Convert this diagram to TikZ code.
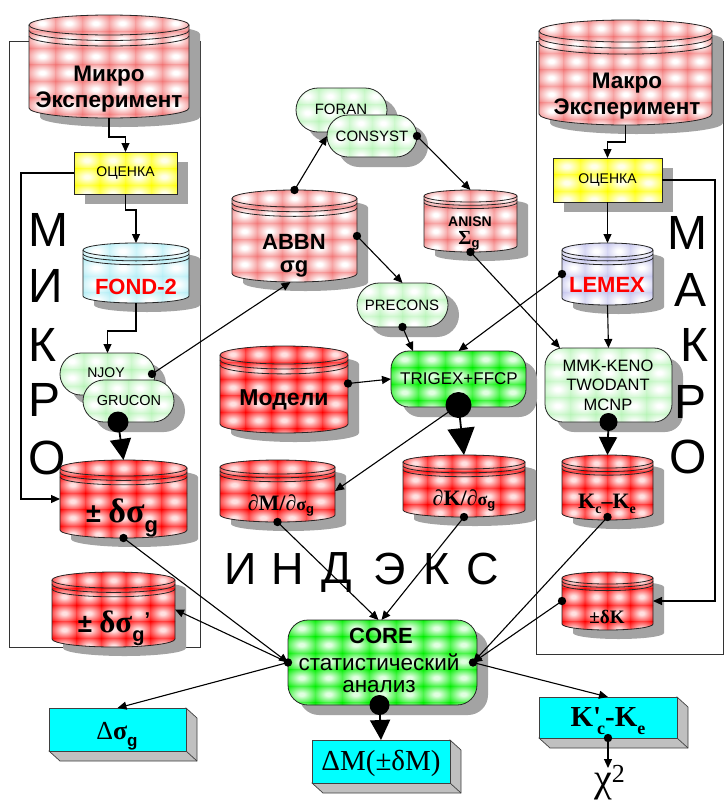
\documentclass[tikz,border=0pt]{standalone}
\usepackage{fontspec}
\setmainfont{Liberation Sans}
\newfontfamily\tnr{Liberation Serif}
\usetikzlibrary{arrows.meta}
\definecolor{shadowc}{HTML}{A3A3A3}
\definecolor{pinkb}{HTML}{F27878}
\definecolor{redb}{HTML}{FF0000}
\definecolor{redc}{HTML}{FFE0E0}
\definecolor{cyanb}{HTML}{B4EEF6}
\definecolor{lavb}{HTML}{C4C4EE}
\definecolor{yelb}{HTML}{FFFF00}
\definecolor{yelc}{HTML}{FFFFE8}
\definecolor{lgb}{HTML}{B8F4B8}
\definecolor{bgb}{HTML}{00EE00}
\definecolor{bgc}{HTML}{E0FFE0}
\definecolor{boxc}{HTML}{00FFFF}
\definecolor{sidec}{HTML}{C0C0C0}
\colorlet{tilein}{white}
\colorlet{tileout}{red}
\pgfdeclareradialshading[tilein,tileout]{tileshade}{\pgfpoint{0bp}{0bp}}{color(0bp)=(tilein); color(5bp)=(tilein); color(36bp)=(tileout); color(50bp)=(tileout)}

% tiled fill: #1 clip path, #2 x1, #3 y1, #4 x2, #5 y2, #6 base, #7 centre
\newcommand\mytiles[7]{%
 \begin{scope}
 \clip #1;
 \colorlet{tilein}{#7}\colorlet{tileout}{#6}%
 \fill[#6] (#2,#3) rectangle (#4,#5);
 \pgfmathtruncatemacro\mytnx{max(4,round((#4-#2)/26))}%
 \pgfmathsetmacro\mytcw{(#4-#2)/\mytnx}%
 \pgfmathtruncatemacro\mytny{ceil((#5-#3)/16.5)}%
 \foreach \tileI in {1,...,\mytnx}{\foreach \tileJ in {1,...,\mytny}{%
   \shade[shading=tileshade] ({#2+(\tileI-1)*\mytcw},{#3+(\tileJ-1)*16.5}) rectangle ++(\mytcw,16.5);}}%
 \end{scope}}

% cylinder: #1 name, #2 x1, #3 y1, #4 x2, #5 y2, #6 ry, #7 base, #8 centre
\newcommand\mycyl[8]{%
 \pgfmathsetmacro\mycx{(#2+#4)/2}%
 \pgfmathsetmacro\mycy{(#3+#5)/2}%
 \pgfmathsetmacro\myrx{(#4-#2)/2}%
 \pgfmathsetmacro\myya{#3+#6}%
 \pgfmathsetmacro\myyb{#5-#6}%
 \pgfmathsetmacro\myyr{#3+1.55*#6}%
 \pgfmathsetmacro\myys{#3+2.1*#6}%
 \pgfmathsetmacro\mywd{#4-#2}%
 \pgfmathsetmacro\myht{#5-#3}%
 \begin{scope}[shift={(11,9)}]
 \fill[shadowc] (#2,\myya) -- (#2,\myyb) arc[start angle=180,end angle=0,x radius=\myrx,y radius=#6] -- (#4,\myya) arc[start angle=0,end angle=-180,x radius=\myrx,y radius=#6] -- cycle;
 \end{scope}
 \mytiles{(#2,\myya) -- (#2,\myyb) arc[start angle=180,end angle=0,x radius=\myrx,y radius=#6] -- (#4,\myya) arc[start angle=0,end angle=-180,x radius=\myrx,y radius=#6] -- cycle}{#2}{#3}{#4}{#5}{#7}{#8}
 \draw[outl] (#2,\myya) -- (#2,\myyb) arc[start angle=180,end angle=0,x radius=\myrx,y radius=#6] -- (#4,\myya);
 \draw[outl] (\mycx,\myya) ellipse[x radius=\myrx,y radius=#6];
 \draw[outl] (#2,\myyr) arc[start angle=180,end angle=0,x radius=\myrx,y radius=#6];
 \draw[outl] (#2,\myys) arc[start angle=180,end angle=0,x radius=\myrx,y radius=#6];
 \node[inner sep=0,outer sep=0,minimum width=\mywd pt,minimum height=\myht pt] (#1) at (\mycx,\mycy) {};
}

% rounded box: #1 name, #2 x1, #3 y1, #4 x2, #5 y2, #6 radius, #7 base, #8 centre
\newcommand\myrbox[8]{%
 \pgfmathsetmacro\mycx{(#2+#4)/2}%
 \pgfmathsetmacro\mycy{(#3+#5)/2}%
 \pgfmathsetmacro\mywd{#4-#2}%
 \pgfmathsetmacro\myht{#5-#3}%
 \fill[shadowc, rounded corners=#6pt] ({#2+11},{#3+10}) rectangle ({#4+11},{#5+10});
 \mytiles{[rounded corners=#6pt] (#2,#3) rectangle (#4,#5)}{#2}{#3}{#4}{#5}{#7}{#8}
 \draw[outl, rounded corners=#6pt] (#2,#3) rectangle (#4,#5);
 \node[inner sep=0,outer sep=0,minimum width=\mywd pt,minimum height=\myht pt] (#1) at (\mycx,\mycy) {};
}

% 3D box: #1 name, #2 x1, #3 y1, #4 x2, #5 y2
\newcommand\mytdbox[5]{%
 \pgfmathsetmacro\mycx{(#2+#4)/2}%
 \pgfmathsetmacro\mycy{(#3+#5)/2}%
 \pgfmathsetmacro\mywd{#4-#2}%
 \pgfmathsetmacro\myht{#5-#3}%
 \filldraw[fill=sidec, draw=black!75, line width=0.7pt] (#4,#3) -- ({#4+11},{#3+10}) -- ({#4+11},{#5+10}) -- ({#2+11},{#5+10}) -- (#2,#5) -- cycle;
 \draw[black!75, line width=0.7pt] (#4,#5) -- ({#4+11},{#5+10});
 \filldraw[fill=boxc, draw=black!75, line width=0.7pt] (#2,#3) rectangle (#4,#5);
 \node[inner sep=0,outer sep=0,minimum width=\mywd pt,minimum height=\myht pt] (#1) at (\mycx,\mycy) {};
}

\begin{document}
\begin{tikzpicture}[x=1pt,y=-1pt,
  outl/.style={draw=black!85, line width=0.8pt},
  frm/.style={draw=black!80, line width=0.8pt},
  conn/.style={line width=1.1pt, -{Triangle[length=9pt,width=8pt]}},
  bigA/.style={line width=1.8pt, -{Triangle[length=#1,width=#1]}},
  t/.style={inner sep=0, outer sep=0, align=center, text=black},
  bigl/.style={inner sep=0, outer sep=0, font=\fontsize{48}{48}\selectfont},
  bigi/.style={inner sep=0, outer sep=0, font=\fontsize{45}{45}\selectfont}]
\fill[white] (0,0) rectangle (724,801);
\useasboundingbox (0,0) rectangle (724,801);

% frames
\draw[frm] (9,41) rectangle (200,647);
\draw[frm] (536,41) rectangle (723,654);

% cylinders
\mycyl{micro}{29}{15}{189}{118}{10}{pinkb}{white}
\mycyl{makro}{539}{20}{712}{125}{11}{pinkb}{white}
\mycyl{abbn}{232}{190}{357}{282}{8.5}{pinkb}{white}
\mycyl{anisn}{424}{190}{517}{252}{6}{pinkb}{white}
\mycyl{fond}{83}{243}{189}{303}{7}{cyanb}{white}
\mycyl{lemex}{562}{243}{653}{305}{7}{lavb}{white}
\mycyl{modeli}{220}{346}{348}{433}{9}{redb}{redc}
\mycyl{dM}{220}{460}{335}{522}{7}{redb}{redc}
\mycyl{dK}{403}{455}{525}{517}{7}{redb}{redc}
\mycyl{kcke}{562}{455}{653}{520}{6.5}{redb}{redc}
\mycyl{pmdK}{562}{572}{653}{630}{6}{redb}{redc}
\mycyl{dsg}{60}{460}{187}{538}{8}{redb}{redc}
\mycyl{dsgp}{52}{572}{175}{647}{8}{redb}{redc}

% boxes
\myrbox{ocL}{74}{152}{177}{194}{0}{yelb}{yelc}
\myrbox{ocR}{553}{158}{662}{202}{0}{yelb}{yelc}
\myrbox{njoy}{60}{353}{155}{395}{21}{lgb}{white}
\myrbox{grucon}{83}{380}{174}{422}{21}{lgb}{white}
\myrbox{foran}{296}{88}{387}{132}{22}{lgb}{white}
\myrbox{consyst}{327}{115}{417}{157}{21}{lgb}{white}
\myrbox{precons}{357}{283}{448}{327}{22}{lgb}{white}
\myrbox{trigex}{391}{351}{526}{407}{18}{bgb}{bgc}
\myrbox{mmk}{545}{348}{672}{422}{18}{lgb}{white}
\myrbox{core}{288}{620}{477}{705}{20}{bgb}{bgc}

\mytdbox{dsgbox}{49}{708}{186}{751}
\mytdbox{dMbox}{312}{740}{450}{783}
\mytdbox{kcbox}{539}{697}{677}{738}

% labels
\node[t, font=\bfseries\fontsize{22.5}{26}\selectfont] (microT) at (109,89) {Микро\\Эксперимент};
\node[t, font=\bfseries\fontsize{22.5}{26}\selectfont] (makroT) at (627,96) {Макро\\Эксперимент};
\node[t, font=\fontsize{14}{14}\selectfont] (ocLT) at (ocL) {ОЦЕНКА};
\node[t, font=\fontsize{14}{14}\selectfont] (ocRT) at (ocR) {ОЦЕНКА};
\node[t, text=red, font=\bfseries\fontsize{22}{22}\selectfont] (fondT) at (136,287) {FOND-2};
\node[t, text=red, font=\bfseries\fontsize{22}{22}\selectfont] (lemT) at (607,285) {LEMEX};
\node[t, font=\fontsize{14}{14}\selectfont] (njoyT) at (106,373) {NJOY};
\node[t, font=\fontsize{14.5}{14}\selectfont] (grucT) at (129,401) {GRUCON};
\node[t, font=\bfseries\fontsize{22}{22}\selectfont] (abbnT1) at (294,242) {ABBN};
\node[t, font=\bfseries\fontsize{22}{22}\selectfont] (abbnT2) at (294,269) {σg};
\node[t, font=\fontsize{15}{15}\selectfont] (foranT) at (341,109) {FORAN};
\node[t, font=\fontsize{15}{15}\selectfont] (consT) at (372,136) {CONSYST};
\node[t, font=\bfseries\fontsize{14}{14}\selectfont] (anisnT1) at (470,222) {ANISN};
\node[t] (anisnT2) at (469,241) {{\tnr\bfseries\fontsize{20}{20}\selectfont Σ}\raisebox{-3pt}{\bfseries\fontsize{13}{13}\selectfont g}};
\node[t, font=\fontsize{15}{15}\selectfont] (precT) at (402,305) {PRECONS};
\node[t, font=\bfseries\fontsize{23}{23}\selectfont] (modT) at (284,400) {Модели};
\node[t, font=\fontsize{17}{17}\selectfont] (trigT) at (459,379) {TRIGEX+FFCP};
\node[t] (dMT) at (281,505) {{\tnr\bfseries\fontsize{22}{22}\selectfont ∂M/∂}{\tnr\bfseries\fontsize{18}{18}\selectfont σ}\raisebox{-3pt}{\bfseries\fontsize{13}{13}\selectfont g}};
\node[t] (dKT) at (464,500) {{\tnr\bfseries\fontsize{22}{22}\selectfont ∂K/∂}{\tnr\bfseries\fontsize{18}{18}\selectfont σ}\raisebox{-3pt}{\bfseries\fontsize{13}{13}\selectfont g}};
\node[t, font=\fontsize{16.5}{19.5}\selectfont] (mmkT) at (608,385) {MMK-KENO\\TWODANT\\MCNP};
\node[t] (kcT) at (607,504) {\tnr\bfseries\fontsize{22}{22}\selectfont K\raisebox{-5pt}{\fontsize{14}{14}\selectfont c}–K\raisebox{-5pt}{\fontsize{14}{14}\selectfont e}};
\node[t] (dkT) at (607,617) {\tnr\bfseries\fontsize{19}{19}\selectfont ±δK};
\node[t] (dsgT) at (122,518) {{\bfseries\fontsize{27}{27}\selectfont ± }{\tnr\bfseries\fontsize{34}{34}\selectfont δσ}\raisebox{-10pt}{\bfseries\fontsize{22}{22}\selectfont g}};
\node[t] (dsgpT) at (114,628) {{\bfseries\fontsize{26}{26}\selectfont ± }{\tnr\bfseries\fontsize{31}{31}\selectfont δσ}\raisebox{-9pt}{\bfseries\fontsize{20}{20}\selectfont g}\raisebox{6pt}{\bfseries\fontsize{20}{20}\selectfont '}};
\node[t, font=\bfseries\fontsize{22}{22}\selectfont] (coreT1) at (381,636) {CORE};
\node[t, font=\fontsize{22.5}{22}\selectfont] (coreT2) at (379,662) {статистический};
\node[t, font=\fontsize{22.5}{22}\selectfont] (coreT3) at (379,687) {анализ};
\node[t] (dsgbT) at (117,736) {{\tnr\fontsize{26}{26}\selectfont Δ}{\tnr\bfseries\fontsize{26}{26}\selectfont σ}\raisebox{-7pt}{\bfseries\fontsize{17}{17}\selectfont g}};
\node[t] (dMbT) at (381,763) {\tnr\fontsize{29}{29}\selectfont ΔM(±δM)};
\node[t] (kcbT) at (608,721) {\tnr\bfseries\fontsize{29}{29}\selectfont K'\kern-4pt\raisebox{-8pt}{\fontsize{18}{18}\selectfont c}-K\raisebox{-8pt}{\fontsize{18}{18}\selectfont e}};
\node[t, anchor=base west] (chiT) at (594,791) {\tnr\fontsize{40}{40}\selectfont χ\raisebox{9pt}{\fontsize{26}{26}\selectfont 2}};

% big letters
\node[bigl, anchor=west] (mi1) at (28,230) {М};
\node[bigl, anchor=west] (mi2) at (28,286) {И};
\node[bigl, anchor=west] (mi3) at (28,345) {К};
\node[bigl, anchor=west] (mi4) at (28,400) {Р};
\node[bigl, anchor=west] (mi5) at (28,458) {О};
\node[bigl, anchor=east] (ma1) at (707,233) {М};
\node[bigl, anchor=east] (ma2) at (707,290) {А};
\node[bigl, anchor=east] (ma3) at (708,345) {К};
\node[bigl, anchor=east] (ma4) at (707,402) {Р};
\node[bigl, anchor=east] (ma5) at (707,457) {О};
\node[bigi] (in1) at (241,569) {И};
\node[bigi] (in2) at (288,569) {Н};
\node[bigi] (in3) at (337,572) {Д};
\node[bigi] (in4) at (390,569) {Э};
\node[bigi] (in5) at (437,569) {К};
\node[bigi] (in6) at (483,569) {С};

% connection points
\coordinate (njoyD) at ([xshift=-3pt]njoy.east);
\coordinate (gruD) at ([xshift=-10.5pt]grucon.south);
\coordinate (abbnTop) at (abbn.north);
\coordinate (abbnR) at (abbn.east);
\coordinate (consD) at (consyst.east);
\coordinate (anisnD) at (anisn.south);
\coordinate (precD) at (precons.south);
\coordinate (modD) at ([yshift=6pt]modeli.east);
\coordinate (lemD) at (lemex.west);
\coordinate (trigD) at ([yshift=2pt]trigex.south);
\coordinate (mmkD) at (mmk.south);
\coordinate (kcD) at ([yshift=3pt]kcke.south);
\coordinate (dkD) at (pmdK.west);
\coordinate (dMD) at (dM.south);
\coordinate (dKD) at (dK.south);
\coordinate (dsgD) at (dsg.south);
\coordinate (coreL) at (core.west);
\coordinate (coreR) at ([xshift=-4pt]core.east);
\coordinate (coreB) at ([xshift=-3pt]core.south);
\coordinate (kcbD) at (kcbox.south);
\coordinate (chitop) at (608,768);

% connectors
\draw[conn] (micro.south) -- ++(0,19) -| (ocL.north);
\draw[conn] (ocL.south) -- ++(0,16) -| (fond.north);
\draw[conn] (ocL.west) -- ++(-53,0) |- (dsg.west);
\draw[conn] (fond.south) -- ++(0,28) -| (njoy.north);
\draw[conn] (njoyD) -- ([xshift=-4pt]abbn.south);
\draw[bigA=21pt] (gruD) -- (dsg.north);
\draw[conn] (abbnTop) -- (consyst.west);
\draw[conn] (consD) -- (anisn.north);
\draw[conn] (abbnR) -- (precons.north);
\draw[conn] (precD) -- ([xshift=22pt]trigex.north west);
\draw[conn] (modD) -- (trigex.west);
\draw[conn] (lemD) -- (trigex.north);
\draw[conn] (anisnD) -- ([xshift=15pt]mmk.north west);
\draw[bigA=27pt] (trigD) -- (dK.north);
\draw[conn] (trigD) -- (dM.east);
\draw[conn] (makro.south) -- ++(0,17) -| (ocR.north);
\draw[conn] (ocR.south) -- (lemex.north);
\draw[conn] (ocR.east) -- ++(53,0) |- (pmdK.east);
\draw[conn] (lemex.south) -- (mmk.north);
\draw[bigA=18pt] (mmkD) -- (kcke.north);
\draw[conn] (kcD) -- (coreR);
\draw[conn] (dkD) -- (coreR);
\draw[conn] (dMD) -- ([xshift=-4pt]core.north);
\draw[conn] (dKD) -- ([xshift=-1pt]core.north);
\draw[conn] (dsgD) -- (coreL);
\draw[conn] (coreL) -- (dsgp.east);
\draw[conn] (coreL) -- (dsgbox.north);
\draw[conn] (coreR) -- (kcbox.north);
\draw[bigA=20pt] (coreB) -- (dMbox.north);
\draw[conn] (kcbD) -- (chitop);

% dots
\foreach \p in {njoyD,abbnTop,abbnR,consD,anisnD,precD,modD,lemD,kcD,dkD,dMD,dKD,dsgD,coreL,coreR,kcbD}
  \fill (\p) circle[radius=4.2];
\fill (gruD) circle[radius=10.5];
\fill (trigD) circle[radius=13];
\fill (mmkD) circle[radius=9];
\fill (coreB) circle[radius=10];
\end{tikzpicture}
\end{document}
